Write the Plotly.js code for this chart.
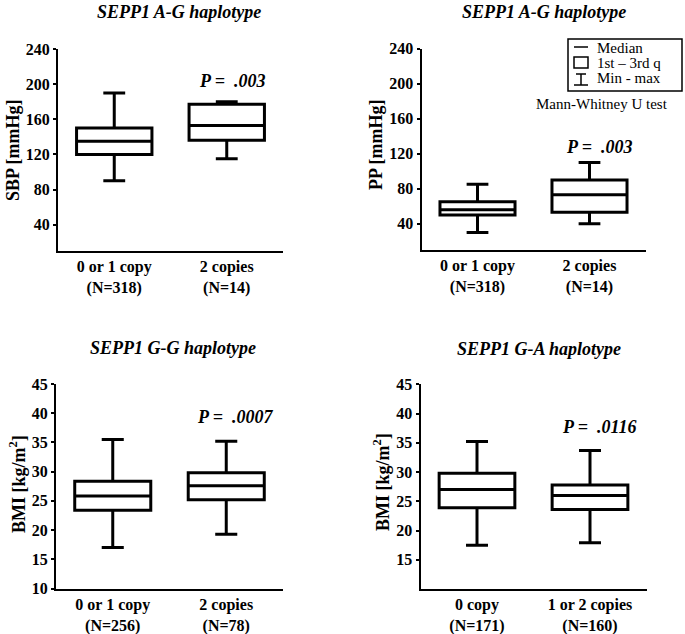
<!DOCTYPE html>
<html>
<head>
<meta charset="utf-8">
<script src="https://cdn.plot.ly/plotly-3.0.1.min.js"></script>
<style>html,body{margin:0;padding:0;background:#fff;}#chart{width:685px;height:634px;}</style>
</head>
<body>
<div id="chart"></div>
<script>
// ---- Data ----
const catsAG = ['0 or 1 copy<br>(N=318)', '2 copies<br>(N=14)'];
const sbpMin = [90, 115];
const sbpQ1 = [120, 136];
const sbpMed = [135, 153];
const sbpQ3 = [150, 177];
const sbpMax = [190, 180];

const ppMin = [30, 40];
const ppQ1 = [50, 53];
const ppMed = [56, 73];
const ppQ3 = [65, 90];
const ppMax = [85, 110];

const catsGG = ['0 or 1 copy<br>(N=256)', '2 copies<br>(N=78)'];
const bmiGGMin = [17, 19.3];
const bmiGGQ1 = [23.4, 25.2];
const bmiGGMed = [25.85, 27.6];
const bmiGGQ3 = [28.35, 29.8];
const bmiGGMax = [35.5, 35.2];

const catsGA = ['0 copy<br>(N=171)', '1 or 2 copies<br>(N=160)'];
const bmiGAMin = [17.5, 17.9];
const bmiGAQ1 = [23.9, 23.6];
const bmiGAMed = [27.0, 26.0];
const bmiGAQ3 = [29.8, 27.8];
const bmiGAMax = [35.2, 33.7];

const panelTitles = ['SEPP1 A-G haplotype', 'SEPP1 A-G haplotype', 'SEPP1 G-G haplotype', 'SEPP1 G-A haplotype'];
const yTitles = ['SBP [mmHg]', 'PP [mmHg]', 'BMI [kg/m<sup>2</sup>]', 'BMI [kg/m<sup>2</sup>]'];
const pValues = ['P =\u00a0\u00a0.003', 'P =\u00a0\u00a0.003', 'P =\u00a0\u00a0.0007', 'P =\u00a0\u00a0.0116'];
const ticksBP = [40, 80, 120, 160, 200, 240];
const ticksBMI1 = [10, 15, 20, 25, 30, 35, 40, 45];
const ticksBMI2 = [15, 20, 25, 30, 35, 40, 45];
const legendLabels = ['Median', '1st \u2013 3rd q', 'Min - max'];
const testLabel = 'Mann-Whitney U test';

// ---- Layout helpers ----
const W = 685, H = 634;
const fx = p => p / W;
const fy = p => 1 - p / H;
const FONT = 'Liberation Serif, Times New Roman, serif';

function boxTrace(cats, mn, q1, med, q3, mx, xa, ya) {
  return {
    type: 'box', x: cats, lowerfence: mn, q1: q1, median: med, q3: q3, upperfence: mx,
    xaxis: xa, yaxis: ya, width: 0.67, whiskerwidth: 0.29,
    line: {color: '#000', width: 3}, fillcolor: '#fff',
    boxpoints: false, hoverinfo: 'skip', showlegend: false
  };
}

const data = [
  boxTrace(catsAG, sbpMin, sbpQ1, sbpMed, sbpQ3, sbpMax, 'x', 'y'),
  boxTrace(catsAG, ppMin, ppQ1, ppMed, ppQ3, ppMax, 'x2', 'y2'),
  boxTrace(catsGG, bmiGGMin, bmiGGQ1, bmiGGMed, bmiGGQ3, bmiGGMax, 'x3', 'y3'),
  boxTrace(catsGA, bmiGAMin, bmiGAQ1, bmiGAMed, bmiGAQ3, bmiGAMax, 'x4', 'y4')
];

const tickFont = {family: FONT, size: 16, color: '#000', weight: 'bold'};
function xAx(dom, anchor) {
  return {domain: dom, anchor: anchor, type: 'category', range: [-0.5, 1.5], showline: true,
    linecolor: '#000', linewidth: 2, ticks: '', showgrid: false, zeroline: false,
    tickfont: tickFont, fixedrange: true};
}
function yAx(dom, anchor, range, tv) {
  return {domain: dom, anchor: anchor, range: range, tickvals: tv, showline: true,
    linecolor: '#000', linewidth: 2, ticks: 'outside', ticklen: 3, tickwidth: 2, tickcolor: '#000',
    showgrid: false, zeroline: false, tickfont: tickFont, fixedrange: true};
}

const annots = [];
const titlePos = [[179, 12], [544, 12], [173, 348], [539, 349]];
const yTitlePos = [[13, 150], [376, 145], [17, 484], [381, 482]];
const pPos = [[232, 81], [599, 147], [235, 417], [599, 427]];
for (let i = 0; i < 4; i++) {
  annots.push({xref: 'paper', yref: 'paper', x: fx(titlePos[i][0]), y: fy(titlePos[i][1]),
    text: '<b><i>' + panelTitles[i] + '</i></b>', showarrow: false, xanchor: 'center', yanchor: 'middle',
    font: {family: FONT, size: 18, color: '#000'}});
  annots.push({xref: 'paper', yref: 'paper', x: fx(yTitlePos[i][0]), y: fy(yTitlePos[i][1]),
    text: '<b>' + yTitles[i] + '</b>', showarrow: false, textangle: -90, xanchor: 'center', yanchor: 'middle',
    font: {family: FONT, size: 18, color: '#000'}});
  annots.push({xref: 'paper', yref: 'paper', x: fx(pPos[i][0]), y: fy(pPos[i][1]),
    text: '<b><i>' + pValues[i] + '</i></b>', showarrow: false, xanchor: 'center', yanchor: 'middle',
    font: {family: FONT, size: 18, color: '#000'}});
}
const legY = [48, 63, 78];
for (let i = 0; i < 3; i++) {
  annots.push({xref: 'paper', yref: 'paper', x: fx(595), y: fy(legY[i]), text: legendLabels[i],
    showarrow: false, xanchor: 'left', yanchor: 'middle', font: {family: FONT, size: 15, color: '#000'}});
}
annots.push({xref: 'paper', yref: 'paper', x: fx(602), y: fy(104), text: testLabel,
  showarrow: false, xanchor: 'center', yanchor: 'middle', font: {family: FONT, size: 15, color: '#000'}});

const L = {color: '#000', width: 1.5};
const shapes = [
  {type: 'rect', xref: 'paper', yref: 'paper', x0: fx(568), x1: fx(682), y0: fy(39), y1: fy(91), line: L},
  {type: 'line', xref: 'paper', yref: 'paper', x0: fx(574), x1: fx(588), y0: fy(47), y1: fy(47), line: L},
  {type: 'rect', xref: 'paper', yref: 'paper', x0: fx(574), x1: fx(588), y0: fy(57), y1: fy(68), line: L},
  {type: 'line', xref: 'paper', yref: 'paper', x0: fx(576), x1: fx(586), y0: fy(74), y1: fy(74), line: L},
  {type: 'line', xref: 'paper', yref: 'paper', x0: fx(581), x1: fx(581), y0: fy(74), y1: fy(85), line: L},
  {type: 'line', xref: 'paper', yref: 'paper', x0: fx(574), x1: fx(588), y0: fy(85), y1: fy(85), line: L}
];

const layout = {
  width: W, height: H, margin: {l: 0, r: 0, t: 0, b: 0},
  paper_bgcolor: '#fff', plot_bgcolor: 'rgba(0,0,0,0)', showlegend: false,
  font: {family: FONT, color: '#000'},
  xaxis: xAx([fx(58), fx(283)], 'y'),
  yaxis: yAx([fy(251), fy(49)], 'x', [10, 240], ticksBP),
  xaxis2: xAx([fx(421.5), fx(645.5)], 'y2'),
  yaxis2: yAx([fy(250), fy(48.5)], 'x2', [10, 240], ticksBP),
  xaxis3: xAx([fx(56), fx(283)], 'y3'),
  yaxis3: yAx([fy(588.5), fy(384)], 'x3', [10, 45], ticksBMI1),
  xaxis4: xAx([fx(420.5), fx(646.5)], 'y4'),
  yaxis4: yAx([fy(589), fy(384.3)], 'x4', [10, 45], ticksBMI2),
  annotations: annots, shapes: shapes
};

Plotly.newPlot('chart', data, layout, {staticPlot: true, displayModeBar: false});
</script>
</body>
</html>
